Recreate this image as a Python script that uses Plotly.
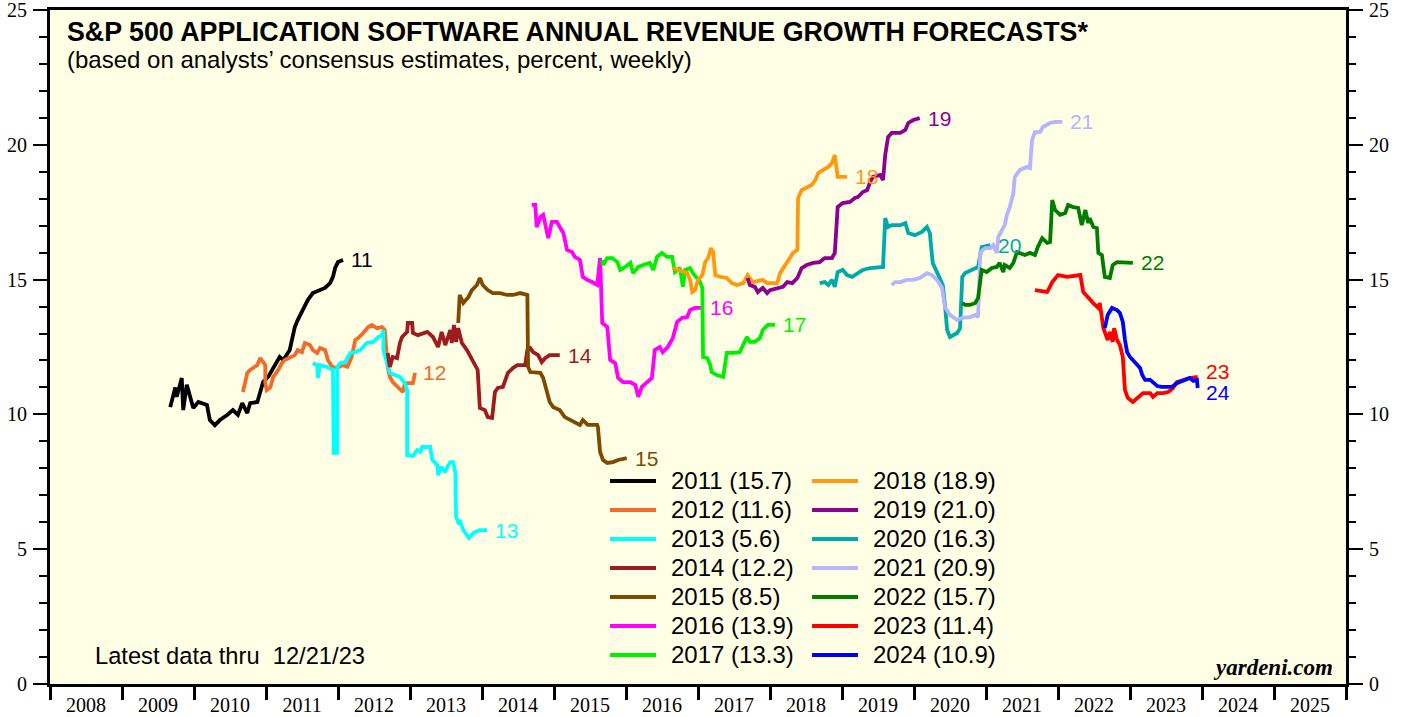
import plotly.graph_objects as go

# analysts' consensus revenue growth forecasts, percent (x = fractional year)
T_2011 = [2009.67, 2009.74, 2009.76, 2009.83, 2009.85, 2009.90, 2009.99, 2010.06, 2010.18, 2010.22, 2010.29,
          2010.36, 2010.46, 2010.54, 2010.61, 2010.67, 2010.74, 2010.78, 2010.88, 2010.92, 2010.96, 2011.03,
          2011.13, 2011.19, 2011.24, 2011.33, 2011.36, 2011.40, 2011.44, 2011.51, 2011.58, 2011.65, 2011.75,
          2011.82, 2011.89, 2011.93, 2011.96, 2012.00, 2012.07]
V_2011 = [10.27, 11.0, 10.65, 11.35, 10.16, 11.1, 10.24, 10.46, 10.35, 9.79, 9.6,
          9.79, 9.98, 10.16, 9.98, 10.42, 10.05, 10.42, 10.46, 10.9, 11.2, 11.39,
          11.83, 12.13, 12.02, 12.39, 12.76, 13.24, 13.5, 13.87, 14.24, 14.5, 14.61,
          14.69, 14.87, 15.1, 15.43, 15.65, 15.73]

T_2012 = [2010.68, 2010.74, 2010.78, 2010.88, 2010.92, 2010.99, 2010.99, 2011.01, 2011.06, 2011.10, 2011.17,
          2011.22, 2011.26, 2011.33, 2011.40, 2011.44, 2011.50, 2011.54, 2011.61, 2011.65, 2011.71, 2011.75,
          2011.82, 2011.86, 2011.92, 2011.99, 2012.06, 2012.13, 2012.19, 2012.24, 2012.28, 2012.35, 2012.42,
          2012.47, 2012.54, 2012.61, 2012.65, 2012.69, 2012.72, 2012.76, 2012.83, 2012.90, 2012.93, 2013.04,
          2013.07]
V_2012 = [10.83, 11.54, 11.65, 11.83, 12.09, 11.83, 11.16, 10.9, 11.0, 11.39, 11.65,
          11.9, 12.02, 12.13, 12.2, 12.39, 12.31, 12.65, 12.57, 12.39, 12.28, 12.46,
          12.39, 12.02, 11.76, 11.72, 11.83, 11.76, 12.13, 12.76, 12.83, 13.02, 13.24,
          13.32, 13.2, 13.24, 13.13, 11.76, 11.39, 11.2, 11.02, 10.83, 11.16, 11.16,
          11.54]

T_2013 = [2011.65, 2011.71, 2011.72, 2011.75, 2011.85, 2011.92, 2011.93, 2011.94, 2011.99, 2011.99, 2012.03,
          2012.10, 2012.17, 2012.24, 2012.31, 2012.40, 2012.49, 2012.56, 2012.61, 2012.63, 2012.63, 2012.69,
          2012.72, 2012.79, 2012.86, 2012.93, 2012.96, 2012.96, 2013.04, 2013.10, 2013.14, 2013.17, 2013.28,
          2013.31, 2013.38, 2013.39, 2013.43, 2013.49, 2013.51, 2013.56, 2013.60, 2013.63, 2013.64, 2013.67,
          2013.69, 2013.74, 2013.82, 2013.88, 2013.97, 2014.07]
V_2013 = [11.9, 11.83, 11.35, 11.83, 11.76, 11.65, 11.72, 8.57, 8.57, 11.76, 11.9,
          11.94, 12.28, 12.31, 12.39, 12.65, 12.69, 12.87, 12.94, 13.13, 12.39, 11.76,
          11.54, 11.46, 11.39, 11.16, 10.9, 8.49, 8.46, 8.68, 8.61, 8.79, 8.79,
          8.31, 8.12, 7.75, 8.05, 7.86, 8.01, 8.23, 8.23, 7.83, 6.19, 6.01,
          6.08, 5.71, 5.42, 5.6, 5.71, 5.71]

T_2014 = [2012.69, 2012.72, 2012.76, 2012.82, 2012.86, 2012.89, 2012.96, 2012.97, 2013.03, 2013.04, 2013.11,
          2013.24, 2013.32, 2013.39, 2013.44, 2013.49, 2013.56, 2013.58, 2013.61, 2013.64, 2013.67, 2013.72,
          2013.79, 2013.86, 2013.90, 2013.94, 2013.97, 2014.04, 2014.08, 2014.14, 2014.18, 2014.22, 2014.29,
          2014.36, 2014.43, 2014.49, 2014.60, 2014.63, 2014.67, 2014.71, 2014.78, 2014.83, 2014.88, 2014.94,
          2015.08]
V_2014 = [12.28, 11.76, 12.13, 12.09, 12.65, 12.87, 13.06, 13.39, 13.39, 13.02, 12.94,
          13.06, 12.87, 12.5, 13.06, 12.57, 13.13, 12.65, 13.32, 12.69, 13.2, 12.65,
          12.39, 12.02, 11.83, 11.65, 10.24, 10.16, 9.9, 9.87, 10.83, 10.98, 11.02,
          11.54, 11.72, 11.83, 11.83, 12.39, 12.46, 12.31, 12.2, 11.94, 12.09, 12.2,
          12.2]

T_2015 = [2013.67, 2013.69, 2013.74, 2013.81, 2013.86, 2013.93, 2013.97, 2014.01, 2014.08, 2014.15, 2014.25,
          2014.35, 2014.43, 2014.53, 2014.63, 2014.64, 2014.67, 2014.74, 2014.81, 2014.85, 2014.90, 2014.94,
          2014.99, 2015.08, 2015.15, 2015.22, 2015.29, 2015.36, 2015.40, 2015.47, 2015.60, 2015.61, 2015.64,
          2015.68, 2015.74, 2015.82, 2015.89, 2016.01]
V_2015 = [13.39, 14.43, 14.13, 14.35, 14.61, 14.8, 15.06, 14.8, 14.61, 14.5, 14.5,
          14.43, 14.43, 14.5, 14.43, 11.76, 11.57, 11.57, 11.54, 11.35, 10.79, 10.46,
          10.27, 10.16, 9.9, 9.79, 9.72, 9.61, 9.79, 9.61, 9.61, 9.53, 8.61,
          8.31, 8.2, 8.23, 8.31, 8.38]

T_2016 = [2014.69, 2014.74, 2014.76, 2014.81, 2014.85, 2014.92, 2014.97, 2015.04, 2015.08, 2015.13, 2015.18,
          2015.25, 2015.29, 2015.36, 2015.40, 2015.46, 2015.53, 2015.60, 2015.64, 2015.67, 2015.74, 2015.78,
          2015.85, 2015.89, 2015.96, 2016.06, 2016.13, 2016.17, 2016.22, 2016.29, 2016.36, 2016.40, 2016.47,
          2016.51, 2016.58, 2016.65, 2016.71, 2016.78, 2016.85, 2016.89, 2016.96, 2017.06]
V_2016 = [17.77, 17.77, 16.95, 17.32, 17.4, 16.54, 17.14, 17.14, 16.95, 16.73, 16.1,
          16.02, 15.84, 15.73, 15.1, 14.99, 14.91, 14.8, 15.8, 13.39, 13.24, 12.02,
          11.9, 11.35, 11.2, 11.2, 11.09, 10.65, 11.02, 11.2, 11.35, 12.39, 12.5,
          12.31, 12.5, 12.83, 13.43, 13.58, 13.61, 13.87, 13.95, 13.95]

T_2017 = [2015.67, 2015.68, 2015.74, 2015.81, 2015.88, 2015.92, 2015.99, 2016.06, 2016.10, 2016.17, 2016.24,
          2016.33, 2016.38, 2016.43, 2016.50, 2016.57, 2016.64, 2016.68, 2016.75, 2016.79, 2016.82, 2016.89,
          2016.93, 2016.99, 2017.03, 2017.06, 2017.07, 2017.13, 2017.17, 2017.19, 2017.26, 2017.35, 2017.40,
          2017.49, 2017.58, 2017.68, 2017.72, 2017.79, 2017.86, 2017.90, 2017.97, 2018.07]
V_2017 = [15.73, 15.54, 15.8, 15.8, 15.65, 15.36, 15.47, 15.62, 15.24, 15.47, 15.54,
          15.62, 15.36, 15.84, 15.99, 15.84, 15.84, 15.28, 15.43, 14.73, 15.36, 15.43,
          15.24, 15.06, 14.91, 14.69, 12.13, 12.09, 11.83, 11.57, 11.46, 11.39, 12.28,
          12.28, 12.31, 12.87, 12.69, 12.69, 12.83, 13.13, 13.32, 13.32]

T_2018 = [2016.65, 2016.72, 2016.79, 2016.85, 2016.89, 2016.92, 2016.96, 2017.00, 2017.06, 2017.10, 2017.14,
          2017.18, 2017.21, 2017.24, 2017.31, 2017.40, 2017.47, 2017.54, 2017.63, 2017.69, 2017.76, 2017.90,
          2017.96, 2018.10, 2018.14, 2018.21, 2018.28, 2018.32, 2018.38, 2018.39, 2018.44, 2018.51, 2018.58,
          2018.63, 2018.67, 2018.74, 2018.81, 2018.86, 2018.90, 2018.94, 2019.07]
V_2018 = [15.43, 15.36, 15.28, 15.24, 14.99, 14.54, 14.61, 14.99, 15.17, 15.65, 15.8,
          16.17, 16.02, 15.17, 15.1, 15.06, 14.87, 14.8, 14.87, 15.17, 14.91, 14.99,
          14.87, 14.87, 15.24, 15.54, 15.8, 15.99, 16.1, 18.03, 18.32, 18.4, 18.51,
          18.69, 18.95, 19.07, 19.18, 19.32, 19.62, 18.81, 18.81]

T_2019 = [2017.69, 2017.72, 2017.79, 2017.83, 2017.90, 2017.96, 2018.00, 2018.10, 2018.18, 2018.24, 2018.31,
          2018.38, 2018.44, 2018.51, 2018.60, 2018.69, 2018.76, 2018.86, 2018.90, 2018.94, 2019.01, 2019.11,
          2019.18, 2019.22, 2019.29, 2019.35, 2019.39, 2019.43, 2019.53, 2019.57, 2019.60, 2019.64, 2019.69,
          2019.81, 2019.88, 2019.92, 2019.99, 2020.08]
V_2019 = [15.06, 14.8, 14.73, 14.54, 14.69, 14.5, 14.61, 14.69, 14.73, 14.91, 14.87,
          15.06, 15.43, 15.54, 15.62, 15.65, 15.8, 15.8, 15.99, 17.69, 17.84, 17.88,
          18.03, 18.06, 18.25, 18.32, 18.62, 18.81, 18.88, 18.69, 19.62, 20.29, 20.44,
          20.44, 20.55, 20.81, 20.92, 20.99]

T_2020 = [2018.69, 2018.76, 2018.81, 2018.86, 2018.90, 2018.94, 2019.01, 2019.07, 2019.14, 2019.21, 2019.29,
          2019.39, 2019.49, 2019.57, 2019.60, 2019.64, 2019.69, 2019.81, 2019.88, 2019.92, 2020.01, 2020.11,
          2020.18, 2020.22, 2020.26, 2020.33, 2020.40, 2020.43, 2020.46, 2020.50, 2020.60, 2020.64, 2020.67,
          2020.71, 2020.82, 2020.89, 2020.94, 2021.06]
V_2020 = [14.87, 14.91, 14.8, 14.99, 14.73, 15.28, 15.36, 15.17, 15.1, 15.24, 15.36,
          15.43, 15.47, 15.47, 17.28, 16.95, 17.02, 17.02, 17.1, 16.73, 16.65, 16.77,
          16.95, 16.73, 15.62, 15.24, 14.8, 14.06, 13.13, 12.87, 13.02, 13.2, 15.1,
          15.24, 15.36, 15.47, 16.21, 16.28]

T_2021 = [2019.69, 2019.74, 2019.81, 2019.90, 2019.99, 2020.08, 2020.18, 2020.25, 2020.32, 2020.39, 2020.43,
          2020.50, 2020.60, 2020.67, 2020.78, 2020.85, 2020.89, 2020.92, 2020.99, 2021.06, 2021.10, 2021.15,
          2021.17, 2021.22, 2021.26, 2021.29, 2021.33, 2021.38, 2021.40, 2021.47, 2021.57, 2021.61, 2021.64,
          2021.68, 2021.75, 2021.79, 2021.89, 2021.96, 2022.06]
V_2021 = [14.8, 14.91, 14.91, 14.99, 14.99, 15.06, 15.24, 15.17, 14.99, 14.69, 13.98,
          13.69, 13.5, 13.58, 13.61, 13.69, 13.61, 16.02, 16.17, 16.17, 16.28, 15.99,
          16.58, 16.84, 17.02, 17.4, 17.69, 18.21, 18.81, 19.07, 19.18, 19.14, 20.18,
          20.47, 20.47, 20.66, 20.81, 20.85, 20.85]

T_2022 = [2020.67, 2020.71, 2020.78, 2020.85, 2020.89, 2020.94, 2021.01, 2021.08, 2021.15, 2021.19, 2021.24,
          2021.26, 2021.33, 2021.38, 2021.43, 2021.47, 2021.54, 2021.61, 2021.68, 2021.72, 2021.78, 2021.85,
          2021.89, 2021.92, 2021.96, 2022.03, 2022.10, 2022.14, 2022.21, 2022.28, 2022.33, 2022.38, 2022.42,
          2022.44, 2022.49, 2022.54, 2022.56, 2022.61, 2022.65, 2022.72, 2022.76, 2022.82, 2022.90, 2023.04]
V_2022 = [14.13, 14.06, 14.06, 14.13, 14.32, 15.36, 15.28, 15.43, 15.47, 15.62, 15.28,
          15.54, 15.43, 15.62, 16.02, 15.99, 15.91, 15.99, 15.91, 16.21, 16.54, 16.36,
          16.39, 17.95, 17.58, 17.4, 17.47, 17.77, 17.69, 17.66, 17.02, 17.58, 17.1,
          17.28, 16.95, 16.91, 15.99, 15.91, 15.1, 15.06, 15.54, 15.65, 15.65, 15.62]

T_2023 = [2021.68, 2021.85, 2021.92, 2022.00, 2022.13, 2022.31, 2022.35, 2022.42, 2022.49, 2022.56, 2022.58,
          2022.63, 2022.69, 2022.72, 2022.76, 2022.78, 2022.82, 2022.86, 2022.90, 2022.93, 2022.97, 2023.04,
          2023.11, 2023.18, 2023.28, 2023.32, 2023.38, 2023.46, 2023.53, 2023.60, 2023.65, 2023.74, 2023.83,
          2023.94]
V_2023 = [14.61, 14.54, 14.91, 15.17, 15.1, 15.17, 14.54, 14.32, 14.13, 13.95, 14.13,
          13.2, 12.76, 13.06, 12.69, 13.2, 12.76, 12.57, 12.13, 10.9, 10.61, 10.46,
          10.61, 10.79, 10.79, 10.65, 10.79, 10.79, 10.83, 10.98, 11.2, 11.28, 11.35,
          11.39]

T_2024 = [2022.65, 2022.69, 2022.75, 2022.82, 2022.86, 2022.90, 2022.93, 2022.96, 2023.00, 2023.04, 2023.10,
          2023.14, 2023.17, 2023.21, 2023.28, 2023.32, 2023.38, 2023.44, 2023.51, 2023.58, 2023.65, 2023.69,
          2023.76, 2023.83, 2023.88, 2023.93, 2023.94]
V_2024 = [13.2, 13.69, 13.95, 13.87, 13.76, 13.43, 12.76, 12.31, 12.13, 12.02, 11.83,
          11.72, 11.46, 11.28, 11.28, 11.2, 11.05, 11.02, 11.02, 11.02, 11.16, 11.2,
          11.28, 11.35, 11.24, 11.28, 10.98]

YEARS = [2011, 2012, 2013, 2014, 2015, 2016, 2017, 2018, 2019, 2020, 2021, 2022, 2023, 2024]
LATEST = [15.7, 11.6, 5.6, 12.2, 8.5, 13.9, 13.3, 18.9, 21.0, 16.3, 20.9, 15.7, 11.4, 10.9]
COLORS = ["#000000", "#F26B2A", "#00FFFF", "#9E1B1F", "#7F4A00", "#FF00FF", "#00F000",
          "#FF9A10", "#8E0090", "#00AAAA", "#B4B4FF", "#007D00", "#FF0000", "#0000FF"]
SERIES = [(T_2011, V_2011), (T_2012, V_2012), (T_2013, V_2013), (T_2014, V_2014), (T_2015, V_2015),
          (T_2016, V_2016), (T_2017, V_2017), (T_2018, V_2018), (T_2019, V_2019), (T_2020, V_2020),
          (T_2021, V_2021), (T_2022, V_2022), (T_2023, V_2023), (T_2024, V_2024)]

SANS = "Liberation Sans, Arial, sans-serif"
SERIF = "Liberation Serif, Times New Roman, serif"

fig = go.Figure()
annotations = []
shapes = []
for i, (year, latest, color, (t, v)) in enumerate(zip(YEARS, LATEST, COLORS, SERIES)):
    fig.add_trace(go.Scatter(
        x=t, y=v, mode="lines", name=f"{year} ({latest})",
        line=dict(color=color, width=3.8), showlegend=False,
    ))
    # end-of-line year label
    annotations.append(dict(
        x=t[-1], y=v[-1], xref="x", yref="y", text=str(year)[2:],
        showarrow=False, xanchor="left", xshift=6,
        yshift={2023: 5, 2024: -5}.get(year, 0),
        font=dict(family=SANS, size=21, color=color),
    ))
    # two-column key inside the plot
    col, row = divmod(i, 7)
    lx = 0.4321 + col * 0.1559
    ly = 0.3012 - row * 0.0430
    shapes.append(dict(type="line", xref="paper", yref="paper", x0=lx, x1=lx + 0.0355, y0=ly, y1=ly,
                       line=dict(color=color, width=4)))
    annotations.append(dict(x=lx + 0.0455, y=ly, xref="paper", yref="paper", xanchor="left",
                            yanchor="middle", showarrow=False, text=f"{year} ({latest})",
                            font=dict(family=SANS, size=24, color="black")))

annotations += [
    dict(x=0.0116, y=0.967, xref="paper", yref="paper", xanchor="left", yanchor="middle", showarrow=False,
         text="<b>S&P 500 APPLICATION SOFTWARE ANNUAL REVENUE GROWTH FORECASTS*</b>",
         font=dict(family=SANS, size=26.8, color="black")),
    dict(x=0.0116, y=0.926, xref="paper", yref="paper", xanchor="left", yanchor="middle", showarrow=False,
         text="(based on analysts’ consensus estimates, percent, weekly)",
         font=dict(family=SANS, size=24, color="black")),
    dict(x=0.0332, y=0.0415, xref="paper", yref="paper", xanchor="left", yanchor="middle", showarrow=False,
         text="Latest data thru  12/21/23", font=dict(family=SANS, size=23.7, color="black")),
    dict(x=0.9915, y=0.0252, xref="paper", yref="paper", xanchor="right", yanchor="middle", showarrow=False,
         text="<b><i>yardeni.com</i></b>", font=dict(family=SERIF, size=23, color="black")),
]

fig.update_layout(
    width=1405, height=717,
    margin=dict(l=50, r=59, t=10, b=33, autoexpand=False),
    paper_bgcolor="white", plot_bgcolor="#FFFFE6",
    showlegend=False,
    annotations=annotations,
    shapes=shapes,
    xaxis=dict(
        range=[2008, 2026], showgrid=False, zeroline=False, automargin=False,
        tickvals=[y + 0.5 for y in range(2008, 2026)], ticktext=[str(y) for y in range(2008, 2026)],
        ticks="outside", ticklen=0, ticklabelstandoff=1, ticklabeloverflow="allow",
        tickfont=dict(family=SERIF, size=20, color="black"),
        minor=dict(tickvals=list(range(2008, 2027)), ticks="outside", ticklen=13, tickwidth=3,
                   tickcolor="black", showgrid=False),
        showline=True, linewidth=3, linecolor="black", mirror=True,
    ),
    yaxis=dict(
        range=[0, 25], dtick=5, showgrid=False, zeroline=False, automargin=False,
        ticks="outside", ticklen=14, tickwidth=1.5, tickcolor="black", ticklabelstandoff=2,
        ticklabeloverflow="allow",
        tickfont=dict(family=SERIF, size=20, color="black"),
        minor=dict(dtick=1, ticks="outside", ticklen=8, tickwidth=1.5, tickcolor="black", showgrid=False),
        showline=True, linewidth=3, linecolor="black", mirror=True,
    ),
    yaxis2=dict(
        range=[0, 25], dtick=5, overlaying="y", side="right", showgrid=False, zeroline=False,
        automargin=False, ticklabeloverflow="allow",
        ticks="outside", ticklen=16, tickwidth=1.5, tickcolor="black", ticklabelstandoff=2,
        tickfont=dict(family=SERIF, size=20, color="black"),
        minor=dict(dtick=1, ticks="outside", ticklen=9, tickwidth=1.5, tickcolor="black", showgrid=False),
        showline=False,
    ),
)
# invisible trace to activate the right-hand axis
fig.add_trace(go.Scatter(x=[2008], y=[0], yaxis="y2", mode="markers", marker=dict(opacity=0),
                         showlegend=False, hoverinfo="skip"))

# drop the default 8px page margin so the figure sits at the window's corner
fig.write_html("out.html", config={"displayModeBar": False},
               post_script="document.body.style.margin = '0';")
